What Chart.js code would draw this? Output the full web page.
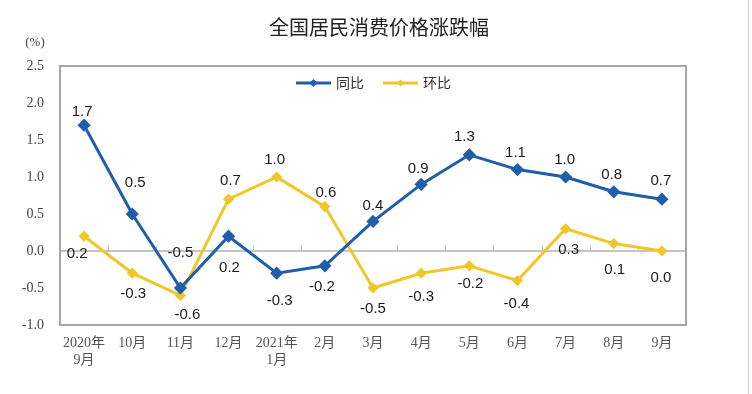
<!DOCTYPE html>
<html lang="zh">
<head>
  <meta charset="UTF-8">
  <title>全国居民消费价格涨跌幅</title>
  <script src="https://cdn.jsdelivr.net/npm/chart.js"></script>
  <style>
    body { margin: 0; padding: 0; background: #fff; }
    #wrap { width: 752px; height: 394px; }
  </style>
</head>
<body>
  <div id="wrap"><canvas id="cpiChart" width="752" height="394"></canvas></div>

  <script>
    // Daten
    const months = [['2020年', '9月'], '10月', '11月', '12月', ['2021年', '1月'], '2月', '3月', '4月', '5月', '6月', '7月', '8月', '9月'];
    const yoy = [1.7, 0.5, -0.5, 0.2, -0.3, -0.2, 0.4, 0.9, 1.3, 1.1, 1.0, 0.8, 0.7];   // 同比
    const mom = [0.2, -0.3, -0.6, 0.7, 1.0, 0.6, -0.5, -0.3, -0.2, -0.4, 0.3, 0.1, 0.0]; // 环比
    const yTicks = [2.5, 2.0, 1.5, 1.0, 0.5, 0.0, -0.5, -1.0];

    // Beschriftungs-Versatz (Pixel) je Punkt
    const yoyLabelDx = [-2, 3, 0, 1, 3, -3, 0, -3, -5, -2, -1, -2, -1];
    const yoyLabelDy = [-13, -31, -35, 32, 28, 21, -16, -16, -18, -17, -17, -17, -18];
    const momLabelDx = [-7, 1, 7, 2, -2, 1, 0, 0, 1, -1, 3, 1, -1];
    const momLabelDy = [18, 21, 19, -18, -17, -14, 21, 24, 18, 23, 21, 26, 27];

    const BLUE = '#1f5ea8';
    const YELLOW = '#f0c729';

    function diamond(g, x, y, r) {
      g.beginPath(); g.moveTo(x, y - r); g.lineTo(x + r, y); g.lineTo(x, y + r); g.lineTo(x - r, y); g.closePath(); g.fill();
    }

    // Rahmen, Nulllinie, Titel, Legende
    const decoPlugin = {
      id: 'deco',
      beforeDatasetsDraw(chart) {
        const { ctx, chartArea: a, scales: { x, y } } = chart;
        ctx.save();
        const y0 = y.getPixelForValue(0);
        ctx.strokeStyle = '#c4c4c4';
        ctx.lineWidth = 2;
        ctx.beginPath(); ctx.moveTo(a.left, y0); ctx.lineTo(a.right, y0); ctx.stroke();
        ctx.lineWidth = 1;
        for (let i = 0; i < months.length - 1; i++) {
          const bx = Math.round((x.getPixelForValue(i) + x.getPixelForValue(i + 1)) / 2) + 0.5;
          ctx.beginPath(); ctx.moveTo(bx, y0 - 5); ctx.lineTo(bx, y0); ctx.stroke();
        }
        ctx.strokeStyle = '#a6a6a6';
        ctx.lineWidth = 2;
        ctx.strokeRect(a.left, a.top, a.right - a.left, a.bottom - a.top);

        // Legende oben in der Zeichenfläche
        const cx = (a.left + a.right) / 2;
        const ly = a.top + 17;
        const starts = [cx - 77, cx + 10];
        const radii = [4, 3.5];
        ctx.font = '14px "Noto Sans CJK SC", sans-serif';
        ctx.textBaseline = 'middle';
        chart.data.datasets.forEach((ds, i) => {
          const sx = starts[i];
          ctx.strokeStyle = ds.borderColor;
          ctx.fillStyle = ds.borderColor;
          ctx.lineWidth = 3;
          ctx.beginPath(); ctx.moveTo(sx, ly); ctx.lineTo(sx + 35, ly); ctx.stroke();
          diamond(ctx, sx + 17.5, ly, radii[i]);
          ctx.fillStyle = '#333';
          ctx.fillText(ds.label, sx + 40, ly);
        });
        ctx.restore();
      },
      afterDraw(chart) {
        const { ctx, height } = chart;
        ctx.save();
        ctx.fillStyle = '#222';
        ctx.font = '20px "Noto Sans CJK SC", sans-serif';
        ctx.textAlign = 'center';
        ctx.textBaseline = 'middle';
        ctx.fillText('全国居民消费价格涨跌幅', 379, 27);
        ctx.fillStyle = '#444';
        ctx.font = '13px "Liberation Serif", serif';
        ctx.fillText('(%)', 35, 43);
        ctx.strokeStyle = '#cfcfcf';
        ctx.lineWidth = 1;
        ctx.beginPath(); ctx.moveTo(748.5, 0); ctx.lineTo(748.5, height); ctx.stroke();
        ctx.restore();
      }
    };

    // Datenbeschriftungen
    const valueLabels = {
      id: 'valueLabels',
      afterDatasetsDraw(chart) {
        const { ctx } = chart;
        const offsets = [[yoyLabelDx, yoyLabelDy], [momLabelDx, momLabelDy]];
        ctx.save();
        ctx.fillStyle = '#1a1a1a';
        ctx.font = '15px "Liberation Sans", Arial, sans-serif';
        ctx.textAlign = 'center';
        ctx.textBaseline = 'middle';
        chart.data.datasets.forEach((ds, di) => {
          chart.getDatasetMeta(di).data.forEach((pt, i) => {
            ctx.fillText(ds.data[i].toFixed(1), pt.x + offsets[di][0][i], pt.y + offsets[di][1][i]);
          });
        });
        ctx.restore();
      }
    };

    const ctx = document.getElementById('cpiChart').getContext('2d');
    new Chart(ctx, {
      type: 'line',
      data: {
        labels: months,
        datasets: [
          {
            label: '同比',
            data: yoy,
            borderColor: BLUE,
            backgroundColor: BLUE,
            borderWidth: 3,
            pointStyle: 'rectRot',
            pointRadius: 4.5,
            tension: 0
          },
          {
            label: '环比',
            data: mom,
            borderColor: YELLOW,
            backgroundColor: YELLOW,
            borderWidth: 3,
            pointStyle: 'rectRot',
            pointRadius: 3.5,
            tension: 0
          }
        ]
      },
      options: {
        responsive: false,
        animation: false,
        layout: { padding: { top: 66, right: 66, left: 0, bottom: 0 } },
        plugins: {
          title: { display: false },
          tooltip: { enabled: false },
          legend: { display: false }
        },
        scales: {
          x: {
            offset: true,
            grid: { display: false, drawTicks: false },
            border: { display: false },
            ticks: {
              color: '#555',
              padding: 10,
              maxRotation: 0,
              autoSkip: false,
              font: { size: 14, family: '"Liberation Serif", "Noto Sans CJK SC", serif' }
            },
            afterFit: (s) => { s.height = 69; }
          },
          y: {
            min: -1.0,
            max: 2.5,
            afterBuildTicks: (s) => { s.ticks = yTicks.map(v => ({ value: v })); },
            grid: { display: false, drawTicks: false },
            border: { display: false },
            ticks: {
              color: '#444',
              padding: 16,
              font: { size: 14, family: '"Liberation Serif", serif' },
              callback: (v) => v.toFixed(1)
            },
            afterFit: (s) => { s.width = 60; }
          }
        }
      },
      plugins: [decoPlugin, valueLabels]
    });
  </script>
</body>
</html>
